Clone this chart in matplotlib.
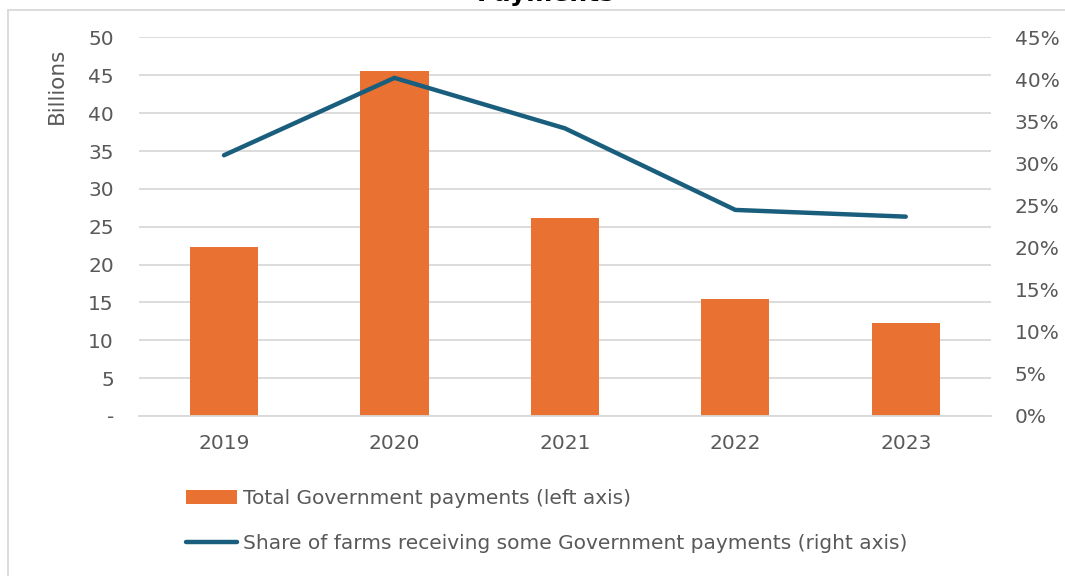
import matplotlib
matplotlib.use("Agg")
import matplotlib.pyplot as plt
from matplotlib.ticker import FixedLocator, FuncFormatter
from matplotlib.lines import Line2D
from matplotlib.patches import Patch

years = ["2019", "2020", "2021", "2022", "2023"]
payments_billions = [22.3, 45.6, 26.1, 15.5, 12.3]
share_farms = [0.310, 0.402, 0.342, 0.245, 0.237]
left_ticks = [0, 5, 10, 15, 20, 25, 30, 35, 40, 45, 50]
right_ticks = [0, 0.05, 0.10, 0.15, 0.20, 0.25, 0.30, 0.35, 0.40, 0.45]
bar_label = "Total Government payments (left axis)"
line_label = "Share of farms receiving some Government payments (right axis)"
title_text = "Payments"

plt.rcParams["font.family"] = ["DejaVu Sans"]

ORANGE = "#E97132"
BLUE = "#1A5E7E"
GRAY_TXT = "#595959"
GRID = "#D9D9D9"
FS = 14.5

fig = plt.figure(figsize=(10.65, 5.76), dpi=100)
ax = fig.add_axes([0.1303, 0.2778, 0.8002, 0.6571])
ax2 = ax.twinx()

x = list(range(len(years)))
ax.bar(x, payments_billions, width=0.4, color=ORANGE, zorder=2)
ax2.plot(x, share_farms, color=BLUE, lw=3.2, solid_capstyle="round", zorder=3)

ax.set_xlim(-0.5, len(years) - 0.5)
ax.set_ylim(0, 50)
ax2.set_ylim(0, 0.45)

ax.yaxis.set_major_locator(FixedLocator(left_ticks))
ax.yaxis.set_major_formatter(FuncFormatter(lambda v, p: "-" if v == 0 else f"{v:g}"))
ax2.yaxis.set_major_locator(FixedLocator(right_ticks))
ax2.yaxis.set_major_formatter(FuncFormatter(lambda v, p: f"{v*100:.0f}%"))
ax.set_xticks(x)
ax.set_xticklabels(years)

ax.grid(axis="y", color=GRID, lw=1.3, zorder=0)
ax.set_axisbelow(True)
for a in (ax, ax2):
    for s in a.spines.values():
        s.set_visible(False)
ax.spines["bottom"].set_visible(True)
ax.spines["bottom"].set_color(GRID)
ax.spines["bottom"].set_linewidth(1.3)

ax.tick_params(axis="y", length=0, pad=18, labelsize=FS, labelcolor=GRAY_TXT)
ax2.tick_params(axis="y", length=0, pad=17, labelsize=FS, labelcolor=GRAY_TXT)
ax.tick_params(axis="x", length=0, pad=13, labelsize=FS, labelcolor=GRAY_TXT)

ax.set_ylabel("Billions", fontsize=15.5, color=GRAY_TXT)
ax.yaxis.set_label_coords(-0.084, 0.872)

handles = [Patch(facecolor=ORANGE, edgecolor="none"),
           Line2D([0], [0], color=BLUE, lw=3.2, solid_capstyle="round")]
fig.legend(handles, [bar_label, line_label], loc="upper left",
           bbox_to_anchor=(186 / 1065, 1 - 489 / 576), frameon=False,
           prop={"size": FS}, labelcolor=GRAY_TXT,
           handlelength=2.55, handleheight=0.75, handletextpad=0.3,
           labelspacing=1.3, borderaxespad=0, borderpad=0)

fig.text(0.512, 1 - 0.5 / 576, title_text, ha="center", va="baseline",
         fontsize=18, fontweight="bold", color="black")

# chart border (top and left edges visible)
fig.add_artist(Line2D([8 / 1065, 1], [1 - 10 / 576, 1 - 10 / 576],
                      transform=fig.transFigure, color="#D9D9D9", lw=1.3))
fig.add_artist(Line2D([8 / 1065, 8 / 1065], [0, 1 - 10 / 576],
                      transform=fig.transFigure, color="#D9D9D9", lw=1.3))

fig.savefig("out.png", dpi=100)
